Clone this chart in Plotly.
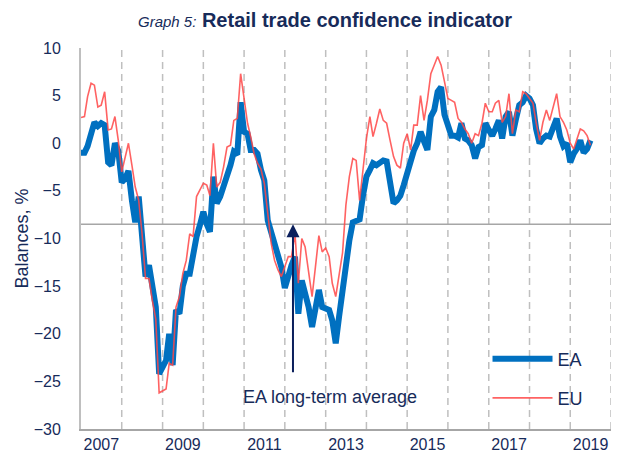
import pandas as pd
import plotly.graph_objects as go

# ---------------- data (monthly, Jan 2007 - Jul 2019) ----------------
ea_2007 = [-1.0, -1.0, -0.3, 1.0, 2.2, 1.8, 2.1, 1.9, -2.0, -2.3, 0.0, -0.8]
ea_2008 = [-4.1, -3.7, -2.9, -6.0, -8.3, -5.6, -9.1, -14.0, -12.8, -15.1, -17.2, -24.2]
ea_2009 = [-23.3, -22.8, -20.0, -23.3, -17.5, -17.9, -15.0, -13.7, -13.7, -11.6, -9.8, -8.6]
ea_2010 = [-7.2, -8.5, -9.3, -3.5, -6.3, -5.6, -4.6, -3.5, -2.3, -0.9, -1.2, 4.3]
ea_2011 = [1.2, 1.0, -0.7, -0.7, -1.1, -2.8, -3.9, -8.1, -9.5, -10.7, -11.9, -13.0]
ea_2012 = [-15.2, -13.6, -12.8, -11.9, -17.9, -14.4, -15.8, -17.2, -19.3, -17.5, -15.4, -17.2]
ea_2013 = [-17.3, -17.5, -18.6, -21.0, -18.2, -15.1, -12.6, -10.2, -8.3, -8.2, -8.0, -5.5]
ea_2014 = [-3.5, -2.8, -2.1, -2.3, -2.0, -1.8, -1.9, -4.0, -6.3, -6.0, -5.5, -4.4]
ea_2015 = [-3.0, -1.8, -0.8, 0.0, 1.2, 0.2, -0.7, 2.8, 3.5, 5.4, 5.9, 3.0]
ea_2016 = [2.1, 0.8, 0.8, 0.6, 2.1, 0.5, 0.3, -0.2, -1.6, -0.4, -0.2, 2.1]
ea_2017 = [1.4, 0.8, 1.5, 2.4, 0.5, 2.8, 3.3, 0.8, 2.5, 4.0, 4.3, 5.0]
ea_2018 = [4.7, 4.0, 1.5, 0.0, 0.5, 0.8, 0.7, 1.5, 2.6, 0.7, -0.3, 0.0]
ea_2019 = [-2.0, -1.1, -0.6, 0.3, -1.0, -0.6, 0.3]

eu_2007 = [2.7, 2.8, 4.9, 6.3, 6.1, 3.8, 4.0, 5.4, 1.4, 1.5, 2.8, 0.3]
eu_2008 = [-3.0, -1.5, 0.0, -2.3, -4.6, -6.0, -9.5, -14.2, -14.2, -16.5, -18.5, -26.2]
eu_2009 = [-26.0, -25.8, -23.1, -23.3, -17.2, -16.1, -13.7, -12.3, -9.5, -9.8, -5.6, -4.9]
eu_2010 = [-4.2, -4.4, -5.5, 0.0, -4.6, -4.1, -2.5, -0.4, -0.2, 2.4, 2.6, 7.3]
eu_2011 = [4.5, 2.1, 0.7, -1.1, -2.1, -2.7, -4.2, -7.7, -10.5, -12.3, -13.3, -14.0]
eu_2012 = [-13.0, -11.9, -11.9, -9.5, -14.7, -10.0, -10.9, -13.6, -16.1, -13.0, -9.7, -11.4]
eu_2013 = [-11.0, -11.9, -14.7, -16.1, -13.7, -11.5, -6.5, -3.5, -1.6, -1.8, -6.0, -2.5]
eu_2014 = [0.5, 2.8, 0.7, 2.1, 3.6, 2.4, 2.1, 0.3, -1.4, -2.3, -2.6, 0.0]
eu_2015 = [1.0, -0.7, 1.9, 1.9, 5.0, 2.4, 4.5, 7.3, 8.2, 9.1, 8.2, 6.3]
eu_2016 = [4.7, 4.5, 4.3, 2.6, 2.2, 1.5, 1.0, 0.0, 1.0, 0.8, 2.1, 4.2]
eu_2017 = [3.3, 3.3, 4.2, 4.5, 2.2, 2.8, 5.2, 1.0, 3.5, 3.3, 5.4, 5.2]
eu_2018 = [4.7, 4.2, 2.2, 0.3, 2.2, 3.5, 2.4, 3.8, 5.2, 2.8, 2.2, 1.4]
eu_2019 = [0.0, -0.6, 0.5, 1.5, 1.3, 0.8, -0.2]

ea_long_term_average = -8.5
tick_years = ["2007", "2009", "2011", "2013", "2015", "2017", "2019"]
year_lines = list(range(2008, 2021))

ea = (ea_2007 + ea_2008 + ea_2009 + ea_2010 + ea_2011 + ea_2012 + ea_2013
      + ea_2014 + ea_2015 + ea_2016 + ea_2017 + ea_2018 + ea_2019)
eu = (eu_2007 + eu_2008 + eu_2009 + eu_2010 + eu_2011 + eu_2012 + eu_2013
      + eu_2014 + eu_2015 + eu_2016 + eu_2017 + eu_2018 + eu_2019)
dates = pd.date_range("2007-01-01", periods=len(ea), freq="MS")

# ---------------- styling ----------------
NAVY = "#172B5A"
BLUE = "#0070C0"
RED = "rgba(255,70,70,0.85)"
GRID = "#BFBFBF"
FONT = "Liberation Sans, Arial, sans-serif"

# the page body has an 8px default margin, so the figure is sized to fill
# the remaining 616x456 area of the 624x464 window
W, H = 616, 456

fig = go.Figure()
fig.add_trace(go.Scatter(x=dates, y=ea, mode="lines", name="EA",
                         line=dict(color=BLUE, width=6), legend="legend"))
fig.add_trace(go.Scatter(x=dates, y=eu, mode="lines", name="EU",
                         line=dict(color=RED, width=1.6), legend="legend2"))

shapes = []
for yr in year_lines:
    shapes.append(dict(type="line", xref="x", yref="y",
                       x0=f"{yr}-01-01", x1=f"{yr}-01-01", y0=-30, y1=10,
                       line=dict(color=GRID, width=1.5, dash="7px,5px"),
                       layer="below"))
shapes.append(dict(type="line", xref="x", yref="y",
                   x0="2007-01-01", x1="2020-01-01",
                   y0=ea_long_term_average, y1=ea_long_term_average,
                   line=dict(color="#A6A6A6", width=1.5), layer="below"))

annotations = [
    dict(x="2012-03-14", y=ea_long_term_average, ax="2012-03-14", ay=-24.2,
         xref="x", yref="y", axref="x", ayref="y", text="", showarrow=True,
         arrowhead=2, arrowsize=1.3, arrowwidth=2, arrowcolor="#0B1F5C"),
    dict(x="2013-02-10", y=-26.65, xref="x", yref="y", text="EA long-term average",
         showarrow=False, font=dict(family=FONT, size=18, color=NAVY)),
]

fig.update_layout(
    template="none",
    width=W, height=H,
    margin=dict(l=73, r=13, t=40, b=35, autoexpand=False),
    paper_bgcolor="white", plot_bgcolor="white",
    title=dict(
        text="<span style='font-size:15px'><i>Graph 5:</i></span> <b>Retail trade confidence indicator</b>",
        x=317 / W, xanchor="center", xref="container", y=1 - 12 / H, yanchor="middle", yref="container",
        font=dict(family=FONT, size=20, color=NAVY)),
    xaxis=dict(
        type="date", range=["2007-01-01", "2020-01-01"], automargin=False,
        tickvals=[f"{y}-07-02" for y in tick_years], ticktext=tick_years,
        ticks="", showgrid=False, zeroline=False,
        showline=True, linecolor="#A6A6A6", linewidth=2,
        tickfont=dict(family=FONT, size=16, color=NAVY), ticklabelstandoff=0),
    yaxis=dict(
        range=[-30, 10], tickvals=[10, 5, 0, -5, -10, -15, -20, -25, -30], automargin=False,
        ticks="", showgrid=False, zeroline=False,
        showline=True, linecolor=GRID, linewidth=2,
        tickfont=dict(family=FONT, size=16, color=NAVY), ticklabelstandoff=15,
        title=dict(text="Balances, %", font=dict(family=FONT, size=18, color=NAVY), standoff=0)),
    legend=dict(x=0.767, y=0.1834, xanchor="left", yanchor="middle", itemwidth=60,
                bgcolor="rgba(0,0,0,0)", font=dict(family=FONT, size=18, color=NAVY)),
    legend2=dict(x=0.767, y=0.081, xanchor="left", yanchor="middle", itemwidth=60,
                 bgcolor="rgba(0,0,0,0)", font=dict(family=FONT, size=18, color=NAVY)),
    shapes=shapes, annotations=annotations, showlegend=True,
)

fig.write_html("out.html")
